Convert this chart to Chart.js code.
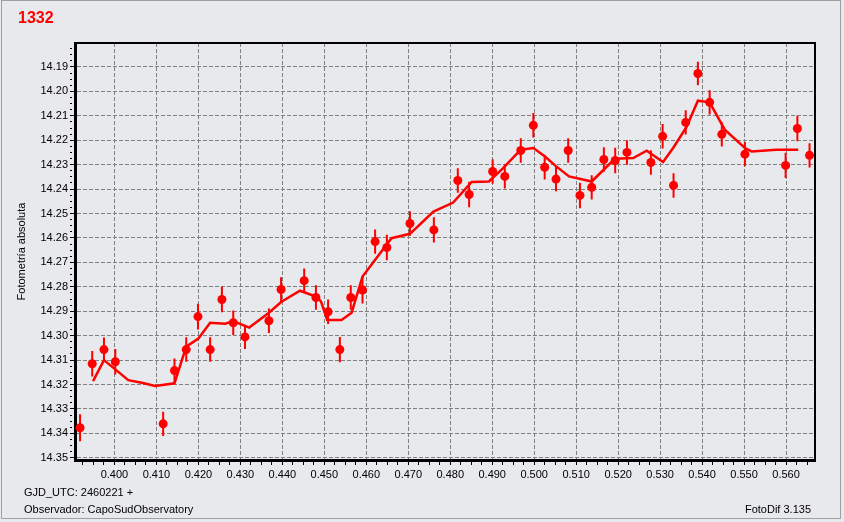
<!DOCTYPE html>
<html>
<head>
<meta charset="utf-8">
<script src="https://cdn.jsdelivr.net/npm/chart.js@4.4.1/dist/chart.umd.min.js"></script>
<style>
  html, body { margin: 0; padding: 0; background: #e8e9ec; }
  canvas { display: block; }
</style>
</head>
<body>
<canvas id="c" width="844" height="522"></canvas>
<script>
// ---- Data ----
const obsTime = [0.3918, 0.3947, 0.3975, 0.4002, 0.4116, 0.4143, 0.4171, 0.4199, 0.4228, 0.4256,
                 0.4283, 0.4311, 0.4368, 0.4397, 0.4452, 0.4480, 0.4509, 0.4537, 0.4563, 0.4591,
                 0.4621, 0.4649, 0.4704, 0.4761, 0.4818, 0.4845, 0.4901, 0.4930, 0.4968, 0.4998,
                 0.5025, 0.5052, 0.5081, 0.5109, 0.5137, 0.5166, 0.5193, 0.5221, 0.5278, 0.5306,
                 0.5332, 0.5361, 0.5390, 0.5418, 0.5447, 0.5502, 0.5599, 0.5627, 0.5656];
const obsMag  = [14.3377, 14.3115, 14.3057, 14.3107, 14.3361, 14.3143, 14.3057, 14.2922, 14.3057, 14.2852,
                 14.2947, 14.3005, 14.2939, 14.2811, 14.2775, 14.2844, 14.2902, 14.3057, 14.2844, 14.2813,
                 14.2615, 14.2639, 14.2541, 14.2567, 14.2365, 14.2422, 14.2328, 14.2348, 14.2242, 14.2139,
                 14.2311, 14.2359, 14.2242, 14.2426, 14.2393, 14.2279, 14.2283, 14.2250, 14.2291, 14.2184,
                 14.2385, 14.2127, 14.1927, 14.2045, 14.2176, 14.2257, 14.2303, 14.2152, 14.2262];
const obsErr  = [0.0055, 0.0052, 0.0049, 0.0052, 0.0050, 0.0050, 0.0050, 0.0053, 0.0050, 0.0052,
                 0.0050, 0.0050, 0.0050, 0.0050, 0.0050, 0.0050, 0.0050, 0.0052, 0.0050, 0.0055,
                 0.0050, 0.0052, 0.0050, 0.0052, 0.0050, 0.0052, 0.0050, 0.0050, 0.0050, 0.0050,
                 0.0050, 0.0050, 0.0050, 0.0052, 0.0050, 0.0050, 0.0052, 0.0050, 0.0050, 0.0050,
                 0.0050, 0.0050, 0.0048, 0.0050, 0.0050, 0.0050, 0.0052, 0.0052, 0.0050];

const avgTime = [0.3949, 0.3975, 0.4002, 0.4033, 0.4065, 0.4097, 0.4143, 0.4171, 0.4200, 0.4228,
                 0.4264, 0.4283, 0.4321, 0.4368, 0.4397, 0.4442, 0.4480, 0.4492, 0.4507, 0.4541,
                 0.4565, 0.4591, 0.4660, 0.4704, 0.4760, 0.4807, 0.4851, 0.4892, 0.4926, 0.4968,
                 0.4998, 0.5025, 0.5051, 0.5083, 0.5137, 0.5192, 0.5236, 0.5268, 0.5307, 0.5331,
                 0.5363, 0.5390, 0.5418, 0.5454, 0.5502, 0.5518, 0.5577, 0.5629];
const avgMag  = [14.3186, 14.3100, 14.3138, 14.3182, 14.3193, 14.3206, 14.3195, 14.3045, 14.3012, 14.2947,
                 14.2951, 14.2940, 14.2967, 14.2906, 14.2862, 14.2816, 14.2840, 14.2860, 14.2936, 14.2936,
                 14.2906, 14.2758, 14.2601, 14.2583, 14.2492, 14.2455, 14.2371, 14.2369, 14.2314, 14.2239,
                 14.2232, 14.2266, 14.2305, 14.2348, 14.2369, 14.2276, 14.2273, 14.2243, 14.2289, 14.2232,
                 14.2146, 14.2038, 14.2045, 14.2157, 14.2232, 14.2246, 14.2239, 14.2239];

const xTickValues = [0.40, 0.41, 0.42, 0.43, 0.44, 0.45, 0.46, 0.47, 0.48, 0.49, 0.50, 0.51, 0.52, 0.53, 0.54, 0.55, 0.56];
const xTickLabels = ['0.400','0.410','0.420','0.430','0.440','0.450','0.460','0.470','0.480','0.490','0.500','0.510','0.520','0.530','0.540','0.550','0.560'];
const yTickValues = [14.19, 14.20, 14.21, 14.22, 14.23, 14.24, 14.25, 14.26, 14.27, 14.28, 14.29, 14.30, 14.31, 14.32, 14.33, 14.34, 14.35];
const yTickLabels = ['14.19','14.20','14.21','14.22','14.23','14.24','14.25','14.26','14.27','14.28','14.29','14.30','14.31','14.32','14.33','14.34','14.35'];

const titleText = '1332';
const yTitle = 'Fotometría absoluta';
const footLine1 = 'GJD_UTC: 2460221 +';
const footLine2 = 'Observador: CapoSudObservatory';
const footRight = 'FotoDif 3.135';

// ---- Build datasets ----
const RED = '#ff0000';
const points = obsTime.map((t, i) => ({ x: t, y: obsMag[i] }));
const avg = avgTime.map((t, i) => ({ x: t, y: avgMag[i] }));
const errSegs = [];
obsTime.forEach((t, i) => {
  errSegs.push({ x: t, y: obsMag[i] - obsErr[i] });
  errSegs.push({ x: t, y: obsMag[i] + obsErr[i] });
  errSegs.push({ x: t, y: null });
});

function minorTicks(lo, hi, step) {
  const out = [];
  for (let v = lo; v <= hi + 1e-9; v += step) out.push(Math.round(v * 10000) / 10000);
  return out;
}
const xAll = minorTicks(0.3925, 0.5650, 0.0025);
const yAll = minorTicks(14.1825, 14.3500, 0.0025);

function majorIndex(list, v) {
  for (let i = 0; i < list.length; i++) if (Math.abs(list[i] - v) < 1e-7) return i;
  return -1;
}
function isMajorCtx(ctx, list) {
  return ctx.tick && majorIndex(list, ctx.tick.value) >= 0;
}

const FONT = '"Liberation Sans", Arial, sans-serif';

const decor = {
  id: 'decor',
  beforeDraw(chart) {
    const c = chart.ctx;
    c.save();
    c.fillStyle = '#e8e9ec';
    c.fillRect(0, 0, chart.width, chart.height);
    c.strokeStyle = '#a0a0a0';
    c.lineWidth = 1;
    c.strokeRect(1.5, 0.5, 839, 518);
    c.restore();
  },
  afterDraw(chart) {
    const c = chart.ctx;
    const a = chart.chartArea;
    c.save();
    c.strokeStyle = '#000';
    c.lineWidth = 2;
    c.beginPath();
    c.moveTo(a.left, a.top);
    c.lineTo(a.right, a.top);
    c.lineTo(a.right, a.bottom);
    c.stroke();
    c.fillStyle = RED;
    c.font = 'bold 16px ' + FONT;
    c.textBaseline = 'middle';
    c.textAlign = 'left';
    c.fillText(titleText, 18, 19);
    c.fillStyle = '#000';
    c.font = '11px ' + FONT;
    c.fillText(footLine1, 24, 493);
    c.fillText(footLine2, 24, 510);
    c.textAlign = 'right';
    c.fillText(footRight, 811, 510);
    c.restore();
  }
};

new Chart(document.getElementById('c'), {
  type: 'scatter',
  data: {
    datasets: [
      {
        label: 'obs',
        data: points,
        order: 0,
        showLine: false,
        pointStyle: 'circle',
        pointRadius: 4.5,
        pointBackgroundColor: RED,
        pointBorderColor: RED,
        pointBorderWidth: 0
      },
      {
        label: 'err',
        data: errSegs,
        order: 1,
        showLine: true,
        spanGaps: false,
        borderColor: RED,
        borderWidth: 2,
        pointRadius: 0
      },
      {
        label: 'avg',
        data: avg,
        order: 2,
        showLine: true,
        borderColor: RED,
        borderWidth: 2.5,
        tension: 0,
        pointRadius: 0
      }
    ]
  },
  options: {
    responsive: false,
    animation: false,
    devicePixelRatio: 1,
    layout: { padding: { left: 8, top: 43, right: 29, bottom: 0 } },
    plugins: {
      legend: { display: false },
      tooltip: { enabled: false },
      title: { display: false }
    },
    scales: {
      x: {
        type: 'linear',
        position: 'bottom',
        min: 0.3906,
        max: 0.5669,
        afterBuildTicks(scale) { scale.ticks = xAll.map(v => ({ value: v })); },
        afterFit(scale) { scale.height = 62; },
        ticks: {
          autoSkip: false,
          maxRotation: 0,
          minRotation: 0,
          padding: 3,
          color: '#000',
          font: { family: FONT, size: 11 },
          callback(value) {
            const i = majorIndex(xTickValues, value);
            return i >= 0 ? xTickLabels[i] : '';
          }
        },
        grid: {
          drawOnChartArea: true,
          color: ctx => isMajorCtx(ctx, xTickValues) ? '#808080' : 'rgba(0,0,0,0)',
          lineWidth: 1,
          tickColor: '#000',
          tickLength: 5,
          tickWidth: 1,
          tickBorderDash: ctx => isMajorCtx(ctx, xTickValues) ? [] : [3, 50]
        },
        border: { display: true, color: '#000', width: 3, dash: [4, 2] }
      },
      y: {
        type: 'linear',
        position: 'left',
        reverse: true,
        min: 14.1802,
        max: 14.3509,
        afterBuildTicks(scale) { scale.ticks = yAll.map(v => ({ value: v })); },
        afterFit(scale) { scale.width = 67; },
        title: {
          display: true,
          text: yTitle,
          color: '#000',
          font: { family: FONT, size: 11 },
          padding: { top: 7, bottom: 0 }
        },
        ticks: {
          autoSkip: false,
          padding: 2,
          color: '#000',
          font: { family: FONT, size: 11 },
          callback(value) {
            const i = majorIndex(yTickValues, value);
            return i >= 0 ? yTickLabels[i] : '';
          }
        },
        grid: {
          drawOnChartArea: true,
          color: ctx => isMajorCtx(ctx, yTickValues) ? '#808080' : 'rgba(0,0,0,0)',
          lineWidth: 1,
          tickColor: '#000',
          tickLength: 5,
          tickWidth: 1,
          tickBorderDash: ctx => isMajorCtx(ctx, yTickValues) ? [] : [2, 50]
        },
        border: { display: true, color: '#000', width: 3, dash: [4, 2] }
      }
    }
  },
  plugins: [decor]
});
</script>
</body>
</html>
